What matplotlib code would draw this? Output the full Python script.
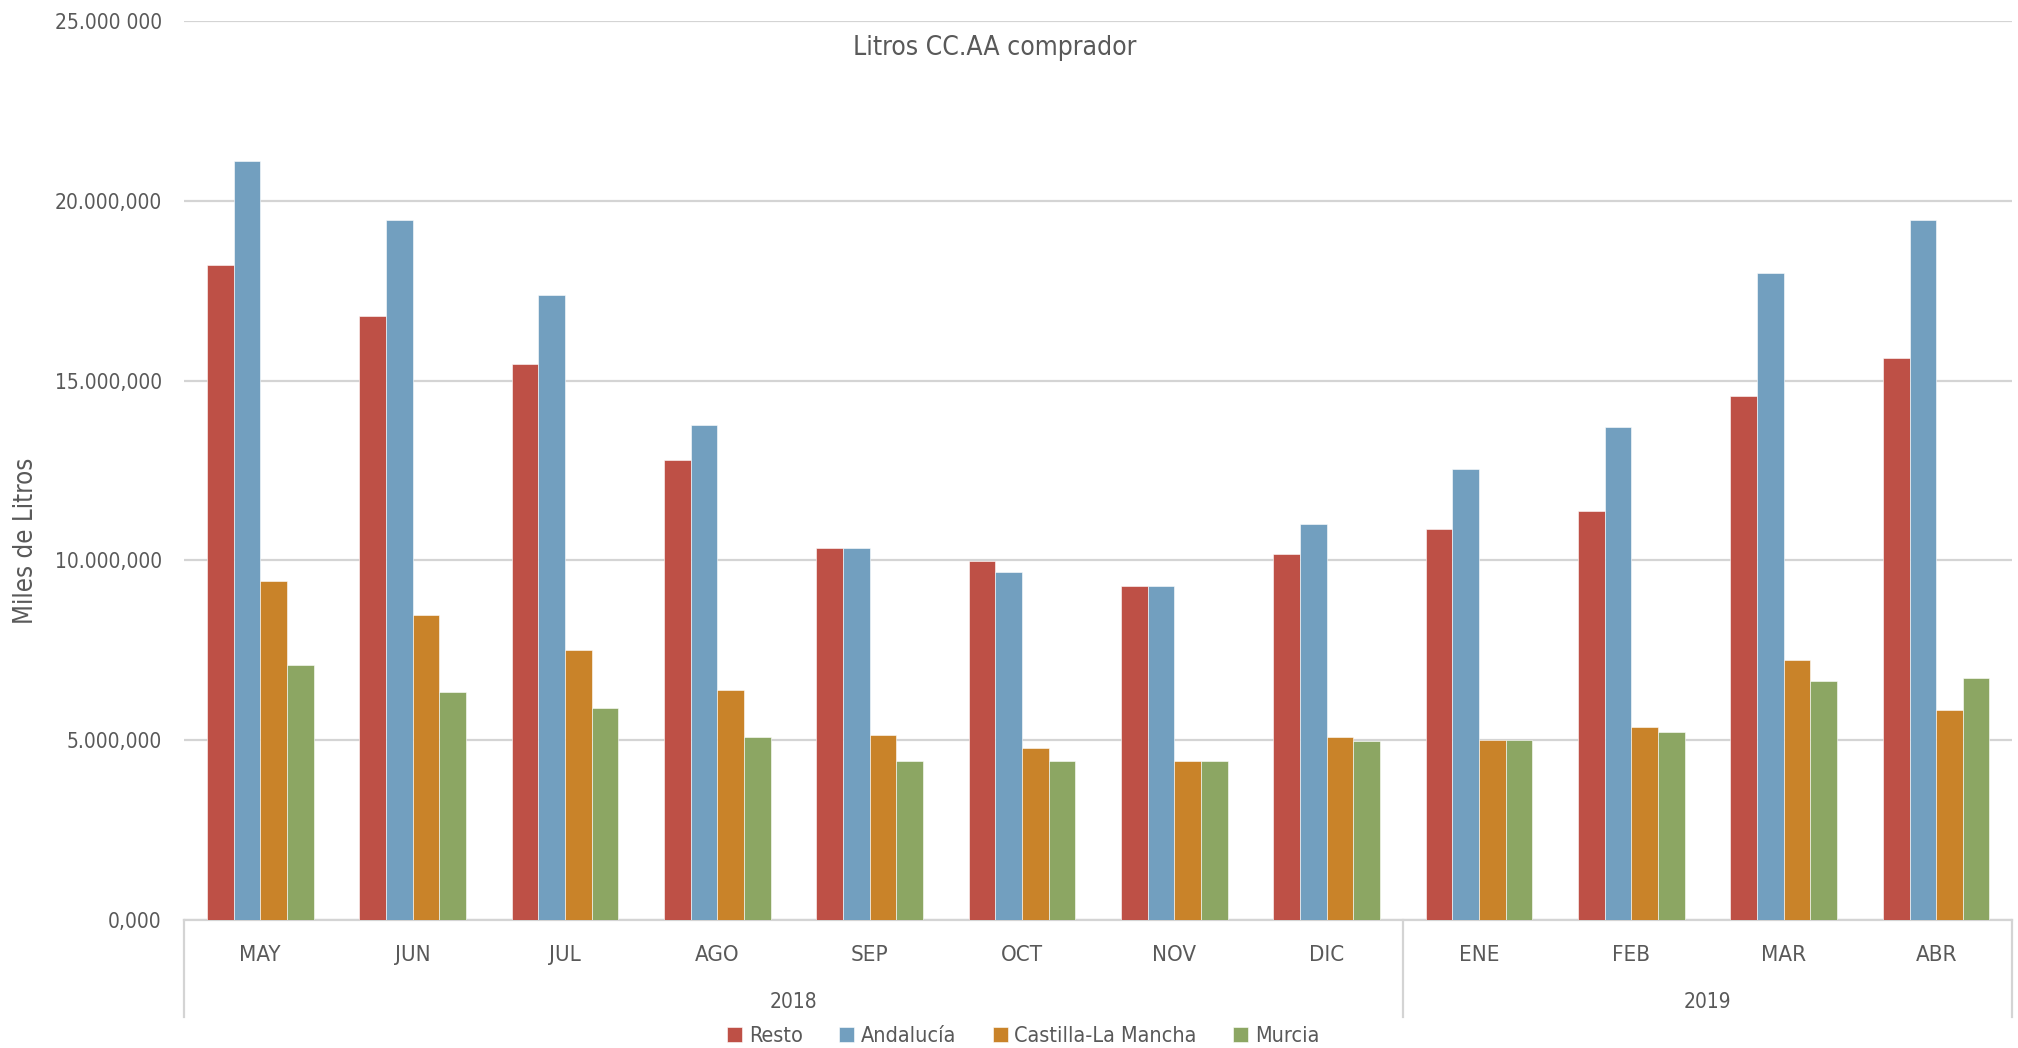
import matplotlib.pyplot as plt
import numpy as np

plt.rcParams['font.family'] = ['DejaVu Sans']
plt.rcParams['font.stretch'] = 'condensed'

# Datos
meses = ['MAY', 'JUN', 'JUL', 'AGO', 'SEP', 'OCT', 'NOV', 'DIC',
         'ENE', 'FEB', 'MAR', 'ABR']
anios = ['2018', '2019']
meses_por_anio = [8, 4]

resto = [18.2, 16.8, 15.45, 12.8, 10.34, 9.98, 9.3, 10.19, 10.87, 11.37, 14.56, 15.63]
andalucia = [21.1, 19.46, 17.38, 13.77, 10.34, 9.69, 9.3, 11.02, 12.55, 13.7, 17.99, 19.46]
castilla = [9.44, 8.48, 7.51, 6.4, 5.15, 4.79, 4.43, 5.08, 5.0, 5.36, 7.22, 5.83]
murcia = [7.08, 6.33, 5.9, 5.08, 4.43, 4.43, 4.43, 4.97, 5.0, 5.22, 6.65, 6.72]

series = ['Resto', 'Andalucía', 'Castilla-La Mancha', 'Murcia']
colores = ['#BE5046', '#729FBF', '#C98329', '#8CA663']

yticks = [0, 5e6, 10e6, 15e6, 20e6, 25e6]
ytick_labels = ['0,000', '5.000,000', '10.000,000', '15.000,000', '20.000,000', '25.000 000']

gris_texto = '#595959'
gris_linea = '#D4D4D4'

fig = plt.figure(figsize=(20.18, 10.48), dpi=100)
ax = fig.add_axes([0.0912, 0.1221, 0.906, 0.858])

x = np.arange(len(meses))
ancho = 0.175
valores = [resto, andalucia, castilla, murcia]
for i, (vals, col, nom) in enumerate(zip(valores, colores, series)):
    ax.bar(x + (i - 1.5) * ancho, np.array(vals) * 1e6, width=ancho, color=col,
           label=nom, edgecolor='white', linewidth=0.4, zorder=3)

ax.set_xlim(-0.5, len(meses) - 0.5)
ax.set_ylim(0, 25e6)
ax.set_yticks(yticks)
ax.set_yticklabels(ytick_labels)
ax.tick_params(axis='y', length=0, pad=16, labelsize=15, labelcolor=gris_texto)
ax.set_xticks([])
ax.grid(axis='y', color=gris_linea, linewidth=1.6, zorder=0)
for s in ['top', 'right', 'left']:
    ax.spines[s].set_visible(False)
ax.spines['bottom'].set_color(gris_linea)
ax.spines['bottom'].set_linewidth(1.6)

# Etiquetas de meses y años
tr = ax.get_xaxis_transform()
for xi, m in zip(x, meses):
    ax.text(xi, -0.039, m, transform=tr, ha='center', va='center',
            fontsize=16, color=gris_texto)

inicio = -0.5
separadores = [inicio]
for a, n in zip(anios, meses_por_anio):
    ax.text(inicio + n / 2, -0.091, a, transform=tr, ha='center', va='center',
            fontsize=15, color=gris_texto)
    inicio += n
    separadores.append(inicio)
for s in separadores:
    ax.plot([s, s], [0, -0.108], transform=tr, color=gris_linea, linewidth=1.6,
            clip_on=False)

fig.text(0.493, 0.954, 'Litros CC.AA comprador', ha='center', va='center',
         fontsize=19, color=gris_texto)
fig.text(0.013, 0.484, 'Miles de Litros', rotation=90, ha='center', va='center',
         fontsize=18.5, color=gris_texto)

fig.legend(loc='center', bbox_to_anchor=(0.507, 0.011), ncol=4, frameon=False,
           fontsize=15.5, handlelength=0.7, handleheight=0.7, handletextpad=0.3,
           columnspacing=1.7, labelcolor=gris_texto)

fig.savefig('out.png', dpi=100)
